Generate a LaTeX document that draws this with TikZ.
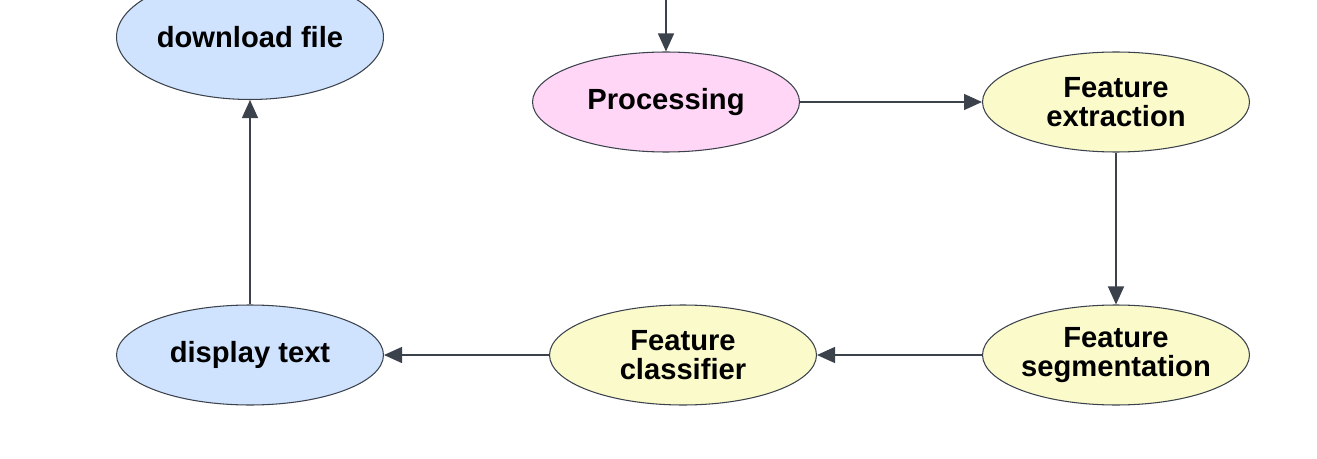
\documentclass[tikz,border=0pt]{standalone}
\usepackage{fontspec}
\setmainfont{Liberation Sans}
\usetikzlibrary{shapes.geometric,arrows.meta}

\definecolor{nodeblue}{HTML}{CFE3FF}
\definecolor{nodepink}{HTML}{FFD6F5}
\definecolor{nodeyellow}{HTML}{FAFACB}
\definecolor{linegray}{HTML}{3B424C}

\tikzset{
	stage/.style={ellipse, draw=linegray, line width=0.6pt, minimum width=5.34cm, minimum height=2cm, inner xsep=-3mm, inner ysep=0pt, align=center, font=\fontsize{16.6}{16.8}\selectfont\bfseries},
	flow/.style={draw=linegray, line width=0.8pt, -{Triangle[length=0.36cm,width=0.32cm]}}
}

\begin{document}
\begin{tikzpicture}[x=0.02cm, y=-0.02cm]
	% Frame
	\useasboundingbox (0,0) rectangle (1317,459);

	% Nodes
	\node[stage, fill=nodeblue, minimum height=2.5cm] (download) at (250,37) {download file};
	\node[stage, fill=nodepink] (processing) at (666,102) {Processing};
	\node[stage, fill=nodeyellow] (extraction) at (1116,102) {Feature\\extraction};
	\node[stage, fill=nodeyellow] (segmentation) at (1116,355) {Feature\\segmentation};
	\node[stage, fill=nodeyellow] (classifier) at (683,355) {Feature\\classifier};
	\node[stage, fill=nodeblue] (display) at (250,355) {display text};
	\coordinate (input) at (666,-5);

	% Connectors
	\draw[flow] (input) -- (processing);
	\draw[flow] (processing) -- (extraction);
	\draw[flow] (extraction) -- (segmentation);
	\draw[flow] (segmentation) -- (classifier);
	\draw[flow] (classifier) -- (display);
	\draw[flow] (display) -- (download);
\end{tikzpicture}
\end{document}
